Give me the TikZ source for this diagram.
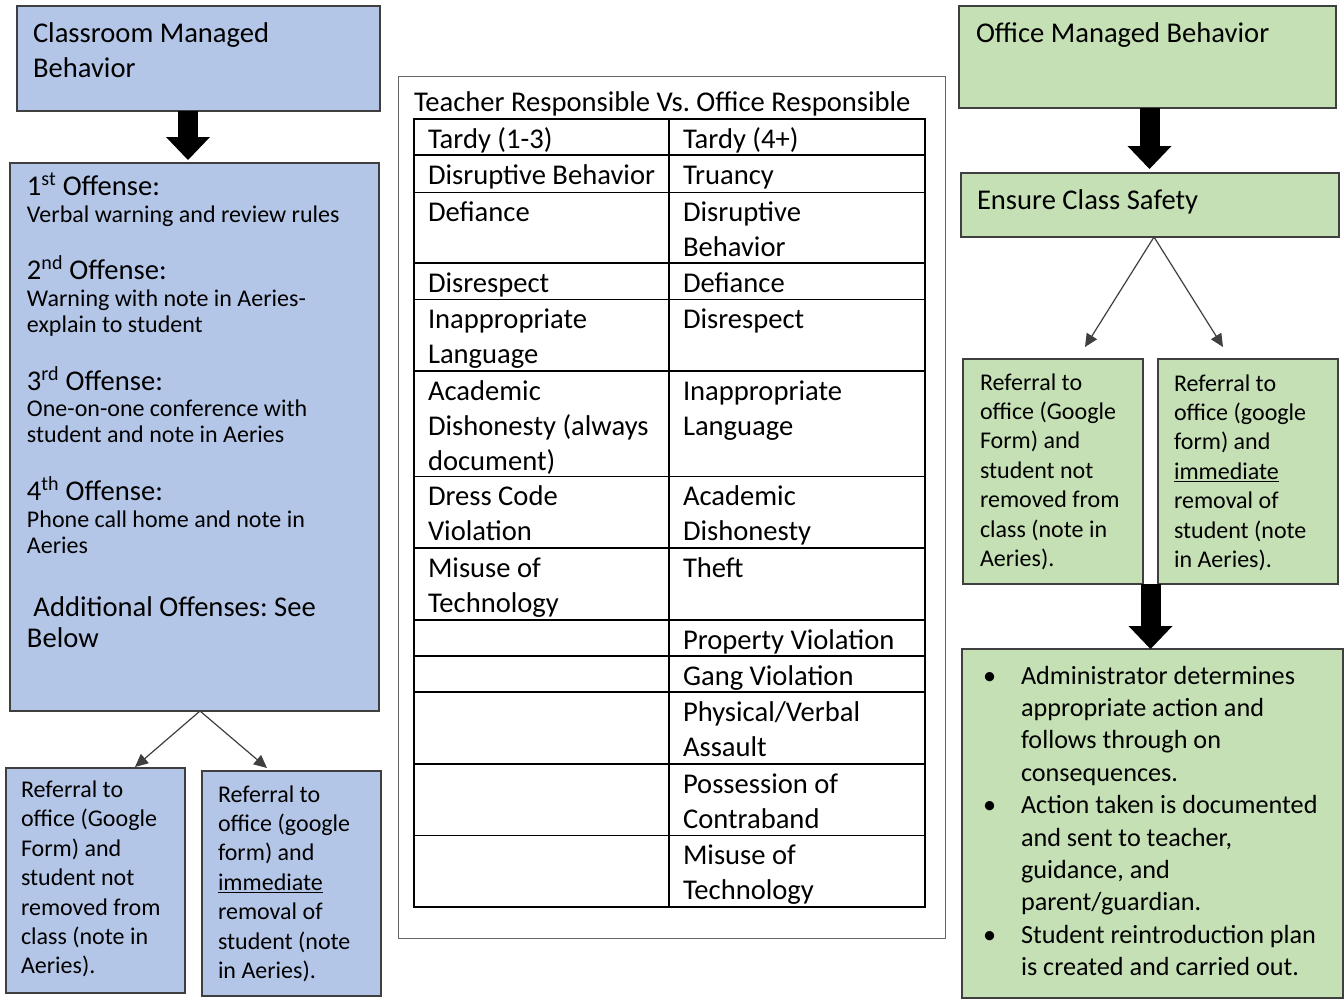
\documentclass[tikz,border=0pt]{standalone}
\usepackage{fontspec}
\setmainfont{Carlito}
\usetikzlibrary{arrows.meta,positioning,calc}
\definecolor{boxblue}{HTML}{B4C6E7}
\definecolor{boxgreen}{HTML}{C5E0B4}
\definecolor{edge}{HTML}{3F3F3F}
\newcommand{\bul}{\llap{\makebox[38pt][l]{•}}}
\newcommand{\txtlines}[1]{\begin{tabular}[t]{@{}l@{}}#1\end{tabular}}
\frenchspacing

\begin{document}
\begin{tikzpicture}[x=1pt,y=-1pt,
  bx/.style={draw=edge,line width=1.2pt,anchor=north west,inner sep=0pt,outer sep=0pt},
  cbox/.style={bx,fill=boxblue},
  obox/.style={bx,fill=boxgreen},
  txt/.style={anchor=base west,inner sep=0pt,outer sep=0pt},
  hdr/.style={txt,font=\fontsize{28.6}{35}\selectfont},
  sml/.style={txt,font=\fontsize{24}{26.5}\selectfont},
  ref/.style={txt,font=\fontsize{24}{29.4}\selectfont},
  blt/.style={txt,font=\fontsize{26.2}{32.4}\selectfont},
  arr/.style={draw=edge,line width=1.2pt,-{Triangle[length=13pt,width=12pt]}},
  blk/.style={draw=black,line width=20pt,-{Triangle[length=23pt,width=44pt,line width=0pt]}}]

\useasboundingbox (0,0) rectangle (1344,999);

% classroom side
\node[cbox,minimum width=363pt,minimum height=105pt] (cls)  at (17,6)    {};
\node[cbox,minimum width=369pt,minimum height=548pt] (off)  at (10,163)  {};
\node[cbox,minimum width=179pt,minimum height=225pt] (refA) at (6,768)   {};
\node[cbox,minimum width=179pt,minimum height=225pt] (refB) at (202,771) {};

\node[hdr] (clsT) at (33,42) {\txtlines{Classroom Managed\\Behavior}};

\node[hdr] (o1) at (27,195) {1\textsuperscript{st} Offense:};
\node[sml] (d1) at (27,222) {Verbal warning and review rules};
\node[hdr] (o2) at (27,279) {2\textsuperscript{nd} Offense:};
\node[sml] (d2) at (27,306) {\txtlines{Warning with note in Aeries-\\explain to student}};
\node[hdr] (o3) at (27,390) {3\textsuperscript{rd} Offense:};
\node[sml] (d3) at (27,416) {\txtlines{One-on-one conference with\\student and note in Aeries}};
\node[hdr] (o4) at (27,500) {4\textsuperscript{th} Offense:};
\node[sml] (d4) at (27,527) {\txtlines{Phone call home and note in\\Aeries}};
\node[hdr] (o5) at (27,616) {\txtlines{\ Additional Offenses: See\\[-4pt]Below}};

\node[ref] (refAT) at (21,797.5) {\txtlines{Referral to\\office (Google\\Form) and\\student not\\removed from\\class (note in\\Aeries).}};
\node[ref] (refBT) at (218,802)  {\txtlines{Referral to\\office (google\\form) and\\\underline{immediate}\\removal of\\student (note\\in Aeries).}};

\draw[blk] ([xshift=-10.5pt]cls.south) -- ([xshift=-10.5pt,yshift=3pt]cls.south |- off.north);
\coordinate (tipA) at (135,767);
\coordinate (tipB) at (267,768);
\foreach \t in {tipA,tipB}
  \draw[arr] ([xshift=5.5pt]off.south) -- (\t);

% table in the middle
\node[bx,draw=black!60,line width=1pt,minimum width=547pt,minimum height=862pt] (frame) at (398,76) {};
\node[hdr] (title) at (414,111) {Teacher Responsible Vs. Office Responsible};

\draw[line width=1.4pt] (414,119) rectangle (925,907);
\draw[line width=1.4pt] (669,119) -- (669,907);
\foreach \y in {155,192.5,263,299.5,371,476.5,548,620,656,692,764,835.5}
  \draw[line width=1.4pt] (414,\y) -- (925,\y);

\foreach \y/\a/\b [count=\i] in {%
  148/{Tardy (1-3)}/{Tardy (4+)},
  184/{Disruptive Behavior}/{Truancy},
  221.5/{Defiance}/{Disruptive\\Behavior},
  292/{Disrespect}/{Defiance},
  328.5/{Inappropriate\\Language}/{Disrespect},
  400/{Academic\\Dishonesty (always\\document)}/{Inappropriate\\Language},
  505.5/{Dress Code\\Violation}/{Academic\\Dishonesty},
  577/{Misuse of\\Technology}/{Theft},
  649/{}/{Property Violation},
  685/{}/{Gang Violation},
  721/{}/{Physical/Verbal\\Assault},
  793/{}/{Possession of\\Contraband},
  864.5/{}/{Misuse of\\Technology}}
{
  \node[hdr] (tl\i) at (428,\y) {\txtlines{\a}};
  \node[hdr] (tr\i) at (683,\y) {\txtlines{\b}};
}

% office side
\node[obox,minimum width=377pt,minimum height=102pt] (ofc)   at (959,6)   {};
\node[obox,minimum width=378pt,minimum height=64pt]  (safe)  at (961,173) {};
\node[obox,minimum width=180pt,minimum height=225pt] (refC)  at (963,359) {};
\node[obox,minimum width=180pt,minimum height=225pt] (refD)  at (1158,359) {};
\node[obox,minimum width=381pt,minimum height=349pt] (admin) at (962,649) {};

\node[hdr] (ofcT)  at (976,42)  {Office Managed Behavior};
\node[hdr] (safeT) at (977,209) {Ensure Class Safety};

\node[ref] (refCT) at (980,390)  {\txtlines{Referral to\\office (Google\\Form) and\\student not\\removed from\\class (note in\\Aeries).}};
\node[ref] (refDT) at (1174,391) {\txtlines{Referral to\\office (google\\form) and\\\underline{immediate}\\removal of\\student (note\\in Aeries).}};

\node[blt] (adminT) at (1021,684) {\txtlines{\bul Administrator determines\\appropriate action and\\follows through on\\consequences.\\
  \bul Action taken is documented\\and sent to teacher,\\guidance, and\\parent/guardian.\\
  \bul Student reintroduction plan\\is created and carried out.}};

\draw[blk] ([xshift=2pt]ofc.south) -- ([xshift=2pt,yshift=4pt]ofc.south |- safe.north);
\coordinate (tipC) at (1085,347);
\coordinate (tipD) at (1223,347);
\foreach \t in {tipC,tipD}
  \draw[arr] ([xshift=4pt]safe.south) -- (\t);
\coordinate (gap) at ($(refC.south east)!0.5!(refD.south west)$);
\draw[blk] (gap) -- (gap |- admin.north);

\end{tikzpicture}
\end{document}
